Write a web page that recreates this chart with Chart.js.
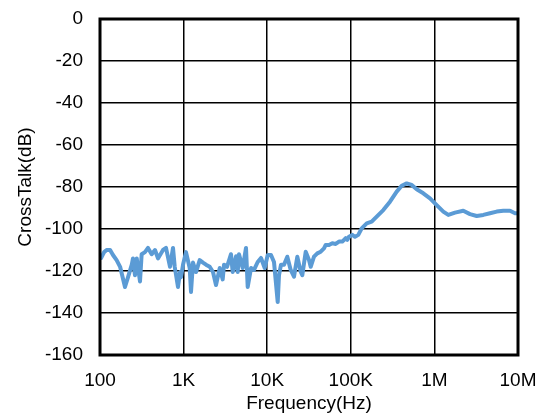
<!DOCTYPE html>
<html>
<head>
<meta charset="utf-8">
<script src="https://cdn.jsdelivr.net/npm/chart.js@4.4.1/dist/chart.umd.min.js"></script>
<style>
  html, body { margin: 0; padding: 0; background: #fff; }
  #wrap { width: 545px; height: 416px; }
</style>
</head>
<body>
<div id="wrap"><canvas id="myChart" width="545" height="416"></canvas></div>
<script>
// frequency (Hz) of each read-off point
const freqHz = [
  103, 112, 120, 132, 143, 158, 174, 199, 216, 240, 248, 262, 275, 301, 315, 345, 375, 415, 455, 494,
  567, 616, 688, 747, 783, 857, 906, 931, 984, 1068, 1183, 1226, 1295, 1407, 1558, 1706, 1853, 2052, 2247, 2441,
  2703, 2936, 3043, 3305, 3690, 3867, 4236, 4438, 4600, 5093, 5578, 5845, 6401, 6953, 7698, 8433, 9335, 10139, 11104, 12059,
  13355, 13840, 14629, 15886, 17394, 19103, 20925, 22909, 25159, 26297, 28878, 31623, 33139, 36292, 39747, 43652, 47797, 50096, 54866, 60074,
  65977, 72260, 79121, 86896, 90797, 95162, 104210, 112260, 122920, 135030, 154990, 177830, 204110, 244740, 294360, 354000, 406370, 466470, 535320, 614340,
  736440, 885960, 1065400, 1278000, 1466900, 1764000, 2216000, 2666000, 3206000, 3845000, 4625000, 5562000, 6673000, 8022000, 9207000, 10000000
];
// crosstalk (dB)
const crosstalkDb = [
  -113.8, -111, -110, -110, -112.4, -114.8, -118, -127.6, -123, -117, -114, -122, -114, -125, -112, -111, -109, -112, -110, -114,
  -110, -109, -118, -109, -118, -127.6, -120.5, -123, -117, -111, -118.6, -130, -116, -120.5, -114.8, -116, -117, -118, -120.5, -126.7,
  -118.6, -124, -117, -118, -112, -120.5, -113, -120.5, -112, -118.6, -109, -127.6, -118.6, -119.5, -115.7, -113.8, -118.6, -112.4, -112.4, -115.7,
  -134.8, -122, -117, -117, -113.2, -119.5, -122.7, -113.2, -120.3, -122, -110.8, -114.8, -118, -113.2, -111.6, -110.8, -109.2, -107.6, -107.6, -106.8,
  -107.1, -106, -106, -104.4, -105.2, -103.7, -102.8, -103.7, -102.8, -99.7, -97.3, -96.5, -94.1, -91, -87, -82.2, -79.4, -78.3, -79, -81.1,
  -83, -85.4, -88.6, -91.7, -93.3, -92.2, -91.3, -92.9, -93.8, -93.3, -92.5, -91.7, -91.3, -91.3, -92.5, -92.5
];
const xTickValues = [100, 1000, 10000, 100000, 1000000, 10000000];
const xTickLabels = ['100', '1K', '10K', '100K', '1M', '10M'];

const fontFamily = '"Liberation Sans", Arial, sans-serif';

// thick black frame round the plot area
const framePlugin = {
  id: 'frame',
  afterDraw(chart) {
    const a = chart.chartArea;
    const ctx = chart.ctx;
    ctx.save();
    ctx.strokeStyle = '#000';
    ctx.lineWidth = 3;
    ctx.strokeRect(a.left, a.top, a.right - a.left, a.bottom - a.top);
    ctx.restore();
  }
};

const pts = freqHz.map((f, i) => ({ x: f, y: crosstalkDb[i] }));

const ctx = document.getElementById('myChart').getContext('2d');
const myChart = new Chart(ctx, {
  type: 'line',
  data: {
    datasets: [{
      data: pts,
      borderColor: '#5B9BD5',
      borderWidth: 4,
      borderJoinStyle: 'round',
      borderCapStyle: 'round',
      pointRadius: 0,
      tension: 0,
      fill: false
    }]
  },
  options: {
    responsive: false,
    animation: false,
    layout: { padding: { top: 19, right: 27, left: 0, bottom: 0 } },
    plugins: {
      legend: { display: false },
      tooltip: { enabled: false }
    },
    scales: {
      x: {
        type: 'logarithmic',
        min: 100,
        max: 10000000,
        afterBuildTicks: (scale) => {
          scale.ticks = xTickValues.map(v => ({ value: v }));
        },
        afterFit: (scale) => {
          scale.height = 61;
          scale.paddingLeft = 0;
          scale.paddingRight = 0;
        },
        ticks: {
          autoSkip: false,
          maxRotation: 0,
          padding: 14,
          color: '#000',
          font: { family: fontFamily, size: 19 },
          callback: (val, i) => xTickLabels[i]
        },
        grid: { color: '#000', lineWidth: 1.5, drawTicks: false },
        border: { display: false },
        title: {
          display: true,
          text: 'Frequency(Hz)',
          color: '#000',
          font: { family: fontFamily, size: 19 },
          padding: { top: 0, bottom: 1 }
        }
      },
      y: {
        min: -160,
        max: 0,
        afterFit: (scale) => {
          scale.width = 100;
          scale.paddingTop = 0;
          scale.paddingBottom = 0;
        },
        ticks: {
          stepSize: 20,
          padding: 17,
          color: '#000',
          font: { family: fontFamily, size: 19 }
        },
        grid: { color: '#000', lineWidth: 1.5, drawTicks: false },
        border: { display: false },
        title: {
          display: true,
          text: 'CrossTalk(dB)',
          color: '#000',
          font: { family: fontFamily, size: 19 },
          padding: { top: 14, bottom: 0 }
        }
      }
    }
  },
  plugins: [framePlugin]
});
</script>
</body>
</html>
